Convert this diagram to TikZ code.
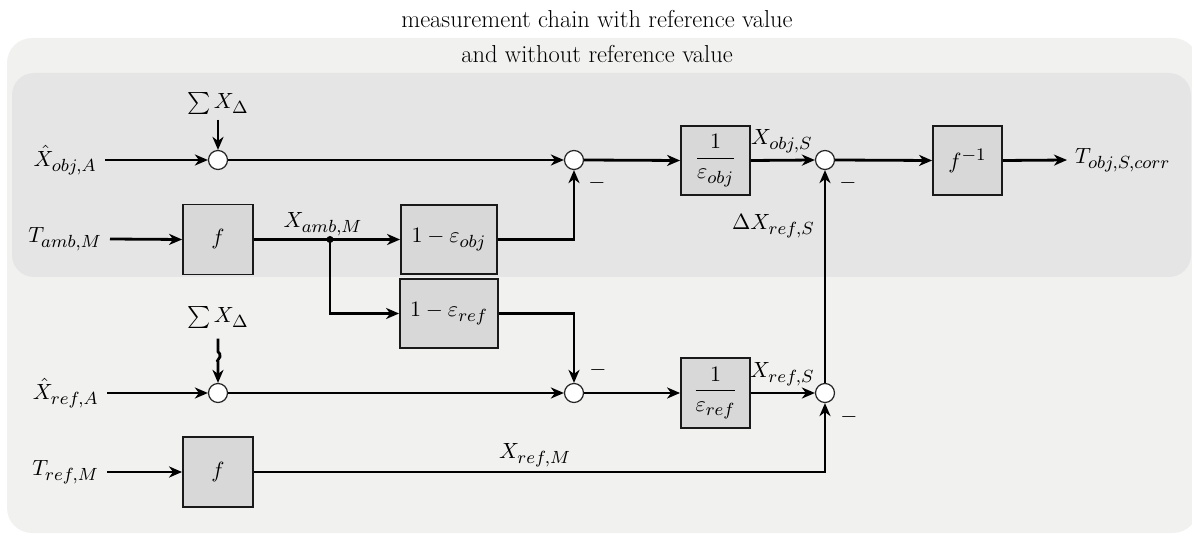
\RequirePackage{fix-cm}
\documentclass[tikz,border=0pt]{standalone}
\usepackage{amsmath}
\usepackage{graphicx}
\usetikzlibrary{arrows.meta}
\DeclareMathSizes{10}{10}{8}{6}

\definecolor{outerbg}{HTML}{F1F1F0}
\definecolor{innerbg}{HTML}{E5E5E5}
\definecolor{blockfill}{HTML}{D8D8D8}

% formulas are set at 10pt and enlarged, keeping the small-size glyph shapes
\newcommand{\labelscale}{2.2}
\newcommand{\mth}[1]{\scalebox{\labelscale}{$#1$}}

\begin{document}
\begin{tikzpicture}[x=1pt,y=-1pt,
  font=\fontsize{10}{12}\selectfont,
  block/.style={draw=black!90, line width=1.8pt, fill=blockfill,
    minimum width=#1, minimum height=69pt, inner sep=0pt},
  block/.default=69pt,
  sumnode/.style={circle, draw=black!85, fill=white, line width=1.2pt,
    minimum size=19pt, inner sep=0pt},
  sig/.style={line width=2.8pt, -{Stealth[length=13pt,width=11pt,inset=4pt]}},
  inlbl/.style={anchor=east, inner sep=8pt},
  lbl/.style={inner sep=0pt},
  heading/.style={inner sep=0pt, anchor=base, font=\fontsize{24.5}{29}\selectfont},
]
\useasboundingbox (0,0) rectangle (1192,534);

% background panels
\fill[outerbg, rounded corners=25pt] (7,38) rectangle (1198,533);
\fill[innerbg, rounded corners=22pt] (12,73) rectangle (1191,277);

% headings
\node[heading] (title) at (597,28) {measurement chain with reference value};
\node[heading] (subtitle) at (597,63) {and without reference value};

% summing points
\node[sumnode] (sum1) at (218,160) {};
\node[sumnode] (sum2) at (574,160) {};
\node[sumnode] (sum3) at (825,160) {};
\node[sumnode] (sum4) at (218,393) {};
\node[sumnode] (sum5) at (574,393) {};
\node[sumnode] (sum6) at (825,393) {};

% transfer blocks
\node[block=70pt, minimum height=70pt] (f1) at (218,239.5) {\mth{f}};
\node[block=96pt] (bAmbObj) at (449,239.5) {\mth{1-\varepsilon_{obj}}};
\node[block=98pt] (bAmbRef) at (449,313.5) {\mth{1-\varepsilon_{ref}}};
\node[block] (bObj) at (715.5,160.5) {\mth{\dfrac{1}{\varepsilon_{obj}}}};
\node[block] (finv) at (967.5,160.5) {\mth{f^{-1}}};
\node[block, minimum height=70pt] (bRef) at (715.5,393) {\mth{\dfrac{1}{\varepsilon_{ref}}}};
\node[block=70pt, minimum height=70pt] (f2) at (218,472) {\mth{f}};

% inputs and output
\node[inlbl] (in1) at (105,160) {\mth{\hat{X}_{obj,A}}};
\node[inlbl] (in2) at (110,239) {\mth{T_{amb,M}}};
\node[inlbl] (in4) at (107,393) {\mth{\hat{X}_{ref,A}}};
\node[inlbl] (in5) at (107,472) {\mth{T_{ref,M}}};
\node[anchor=west, inner sep=8pt] (out) at (1067,160) {\mth{T_{obj,S,corr}}};

% disturbance inputs
\node[lbl, anchor=base] (dist1) at (218,109) {\mth{\sum X_\Delta}};
\node[lbl, anchor=base] (dist2) at (218,323) {\mth{\sum X_\Delta}};

% signal names
\node[lbl, anchor=base] (xamb) at (323,228) {\mth{X_{amb,M}}};
\node[lbl, anchor=base west] (xobjs) at (751,145) {\mth{X_{obj,S}}};
\node[lbl, anchor=base east] (dxref) at (815,230) {\mth{\Delta X_{ref,S}}};
\node[lbl, anchor=base west] (xrefs) at (750,378) {\mth{X_{ref,S}}};
\node[lbl, anchor=base west] (xrefm) at (499,459) {\mth{X_{ref,M}}};

% signs
\node[lbl] (m2) at (597,183) {\mth{-}};
\node[lbl] (m3) at (848,183) {\mth{-}};
\node[lbl] (m5) at (598,370) {\mth{-}};
\node[lbl] (m6) at (849,417) {\mth{-}};

% branch point
\coordinate (jn) at (330,239.5);

% object channel
\draw[sig] (in1.east) -- (sum1.west);
\draw[sig] ([yshift=-5pt]dist1.south) -- (sum1.north);
\draw[sig] (sum1.east) -- (sum2.west);
\draw[sig] (sum2.east) -- (bObj.west);
\draw[sig] (bObj.east) -- (sum3.west);
\draw[sig] (sum3.east) -- (finv.west);
\draw[sig] (finv.east) -- (out.west);

% ambient path
\draw[sig] (in2.east) -- (f1.west);
\draw[sig] (f1.east) -- (bAmbObj.west);
\draw[sig] (jn) |- (bAmbRef.west);
\fill (jn) circle (3.5pt);
\draw[sig] (bAmbObj.east) -| (sum2.south);
\draw[sig] (bAmbRef.east) -| (sum5.north);

% reference channel
\draw[sig] (in4.east) -- (sum4.west);
\draw[sig] ([yshift=-10pt]dist2.south) -- ++(0,13)
  .. controls ++(2,1) and ++(0,-2) .. ++(2,5)
  .. controls ++(0,2) and ++(-2,-1) .. ++(-2,5)
  -- (sum4.north);
\draw[sig] (sum4.east) -- (sum5.west);
\draw[sig] (sum5.east) -- (bRef.west);
\draw[sig] (bRef.east) -- (sum6.west);
\draw[sig] (sum6.north) -- (sum3.south);
\draw[sig] (in5.east) -- (f2.west);
\draw[sig] (f2.east) -| (sum6.south);
\end{tikzpicture}
\end{document}
